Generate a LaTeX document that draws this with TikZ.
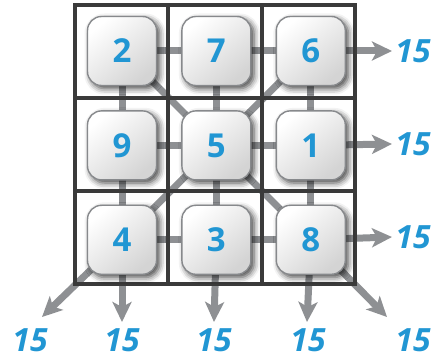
\documentclass[tikz,border=0pt]{standalone}
\usepackage{fontspec}
\setmainfont{Open Sans}
\usetikzlibrary{arrows.meta,shadows.blur,positioning}
\definecolor{numblue}{RGB}{33,150,211}
\definecolor{linkgray}{RGB}{142,144,147}
\definecolor{gridgray}{RGB}{58,58,58}
\definecolor{boxedge}{RGB}{135,137,140}
\pgfdeclarelayer{links}
\pgfdeclarelayer{lines}
\pgfsetlayers{links,lines,main}
\tikzset{
	cellbox/.style={draw=boxedge, line width=1.4pt, rounded corners=14pt,
		minimum size=69pt, inner sep=0pt,
		top color=white, bottom color=black!17, shading angle=40,
		blur shadow={shadow xshift=3pt, shadow yshift=-3pt, shadow blur radius=6pt, shadow opacity=75},
		text=numblue, font=\fontsize{33}{33}\selectfont\bfseries},
	link/.style={linkgray, line width=7pt},
	outarrow/.style={link, -{Stealth[length=20pt,width=19pt,inset=5pt]}},
	sumlabel/.style={text=numblue, inner sep=0pt, font=\fontsize{32}{32}\selectfont\bfseries\itshape}
}

\begin{document}
\begin{tikzpicture}[x=1pt, y=-1pt, node distance=24pt]
				\useasboundingbox (0,0) rectangle (432,358);

					% the nine boxes
					\node[cellbox] (n2) at (122,51) {2};
					\node[cellbox, right=of n2] (n7) {7};
					\node[cellbox, right=of n7] (n6) {6};
					\node[cellbox, below=of n2] (n9) {9};
					\node[cellbox, right=of n9] (n5) {5};
					\node[cellbox, right=of n5] (n1) {1};
					\node[cellbox, below=of n9] (n4) {4};
					\node[cellbox, right=of n4] (n3) {3};
					\node[cellbox, right=of n3] (n8) {8};

					% sums
					\node[sumlabel] (r6) at (413,51) {15};
					\node[sumlabel] (r1) at (413,144) {15};
					\node[sumlabel] (r8) at (413,237) {15};
					\node[sumlabel] (bl) at (30,340) {15};
					\node[sumlabel] (b4) at (122,340) {15};
					\node[sumlabel] (b3) at (214,340) {15};
					\node[sumlabel] (b8) at (308,340) {15};
					\node[sumlabel] (br) at (413,340) {15};

					% arrow tips
					\coordinate (t6) at (392,51);
					\coordinate (t1) at (392,144);
					\coordinate (t8) at (392,237);
					\coordinate (tl) at (42,317);
					\coordinate (t4) at (122,322);
					\coordinate (t3) at (214,322);
					\coordinate (td) at (307,322);
					\coordinate (tr) at (387,317);

					\begin{pgfonlayer}{links}
						\draw[link] (n2.center) -- (n7.center) -- (n6.center);
						\draw[link] (n9.center) -- (n5.center) -- (n1.center);
						\draw[link] (n4.center) -- (n3.center) -- (n8.center);
						\draw[link] (n2.center) -- (n9.center) -- (n4.center);
						\draw[link] (n7.center) -- (n5.center) -- (n3.center);
						\draw[link] (n6.center) -- (n1.center) -- (n8.center);
						\draw[link] (n2.center) -- (n5.center) -- (n8.center);
						\draw[link] (n6.center) -- (n5.center) -- (n4.center);

						\draw[outarrow] (n6.center) -- (t6);
						\draw[outarrow] (n1.center) -- (t1);
						\draw[outarrow] (n8.center) -- (t8);
						\draw[outarrow] (n4.center) -- (tl);
						\draw[outarrow] (n4.center) -- (t4);
						\draw[outarrow] (n3.center) -- (t3);
						\draw[outarrow] (n8.center) -- (td);
						\draw[outarrow] (n8.center) -- (tr);
					\end{pgfonlayer}

					\begin{pgfonlayer}{lines}
						\draw[gridgray, line width=4pt] (75,5) rectangle (355,284);
						\draw[gridgray, line width=4pt] (168,5) -- (168,284);
						\draw[gridgray, line width=4pt] (262,5) -- (262,284);
						\draw[gridgray, line width=4pt] (75,98) -- (355,98);
						\draw[gridgray, line width=4pt] (75,191) -- (355,191);
					\end{pgfonlayer}

				\end{tikzpicture}
\end{document}
